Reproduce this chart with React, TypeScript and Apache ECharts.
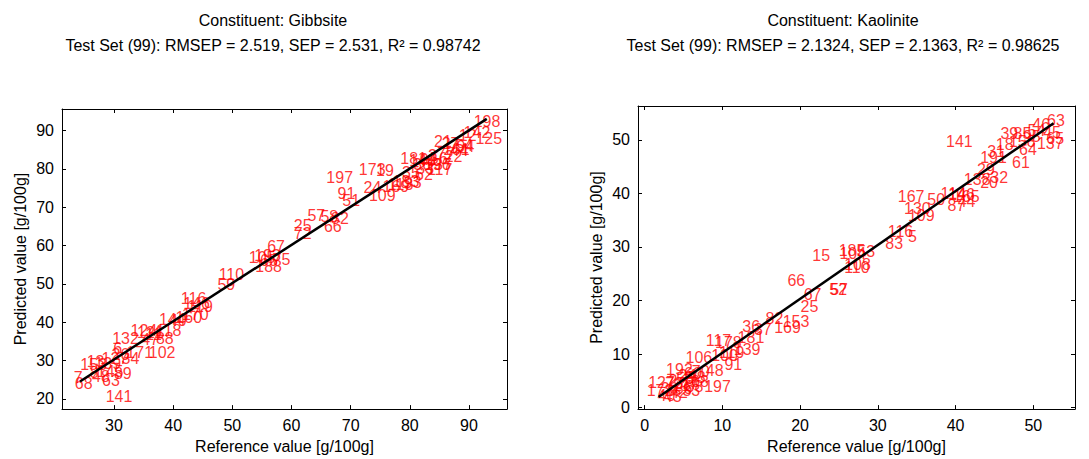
import React, { useEffect, useRef } from 'react';
import * as echarts from 'echarts';

// ---------- Gibbsite (left panel) ----------
const gibbsiteIds = [
  198, 142, 125, 12, 21, 27, 54, 94, 161, 44, 77, 181, 148, 36, 92, 196, 56, 37, 117, 35, 62, 93, 183, 2, 22, 33,
  197, 173, 19, 91, 51, 24, 109, 169, 113,
  57, 58, 82, 66, 25, 72,
  67, 105, 193, 65, 188, 75,
  110, 59,
  116, 146, 119, 170, 144, 40, 160, 118, 88,
  124, 121, 132, 11, 47,
  6, 171, 102, 34, 26,
  153, 13, 139, 127, 89, 7, 68, 63, 48, 145, 8, 141,
];
const gibbsiteRef = [
  90.7, 89.0, 91.0, 88.2, 84.0, 85.3, 87.6, 87.8, 85.5, 86.8, 84.5, 78.3, 79.8, 80.5, 81.6, 82.3, 83.3, 84.0, 82.8, 78.6, 80.8, 78.9, 77.0, 83.0, 85.8, 81.0,
  65.8, 71.3, 74.2, 67.7, 68.5, 72.1, 73.0, 75.3, 76.2,
  62.6, 64.8, 66.6, 65.4, 60.3, 60.3,
  55.8, 52.7, 53.6, 54.6, 53.8, 56.7,
  47.6, 47.4,
  41.2, 41.6, 42.3, 41.4, 37.5, 39.2, 40.3, 37.0, 37.0,
  32.7, 33.8, 29.6, 35.2, 34.5,
  29.8, 32.0, 35.8, 31.2, 29.5,
  24.2, 25.3, 26.6, 27.8, 29.9, 23.1, 23.3, 27.9, 26.2, 27.0, 25.8, 28.5,
];
const gibbsitePred = [
  92.2, 89.5, 88.0, 88.6, 87.2, 86.6, 86.0, 85.8, 85.0, 84.7, 84.0, 82.8, 82.2, 81.0, 82.5, 81.2, 82.6, 81.0, 79.8, 79.0, 78.6, 76.5, 76.8, 83.5, 83.2, 80.0,
  77.8, 79.7, 79.6, 73.5, 71.8, 75.0, 73.0, 75.4, 76.0,
  67.7, 67.5, 67.0, 64.9, 65.3, 63.2,
  59.8, 56.8, 57.3, 56.2, 54.6, 56.3,
  52.4, 49.8,
  46.2, 45.0, 44.0, 41.9, 40.8, 40.4, 41.2, 37.9, 35.8,
  37.9, 37.3, 35.7, 36.8, 35.5,
  33.1, 32.1, 32.1, 30.5, 31.5,
  28.9, 29.8, 29.2, 30.6, 26.5, 25.6, 24.1, 24.8, 25.8, 27.2, 26.9, 20.7,
];
const gibbsiteFitX = [24.25, 93.0];
const gibbsiteFitY = [24.55, 93.0];

// ---------- Kaolinite (right panel) ----------
const kaoliniteIds = [
  63, 46, 39, 85, 95, 54, 45, 65, 137, 64, 18, 31, 158, 61, 141, 191, 29, 138, 20, 32,
  167, 50, 114, 146, 165, 87, 44, 130, 109, 116, 5, 83,
  15, 185, 104, 53, 108, 110, 52, 57, 66, 67, 25, 82, 153, 169, 37, 36, 181, 117, 178, 139, 106, 100, 119, 91, 48,
  192, 127, 172, 40, 43, 197, 68, 58, 2, 21, 24, 30, 33, 42, 55, 60, 70, 73, 77, 86, 88,
];
const kaoliniteRef = [
  51.7, 49.8, 45.7, 47.4, 48.6, 49.2, 51.2, 51.6, 50.4, 48.1, 45.1, 44.0, 46.8, 47.2, 38.7, 43.1, 42.7, 41.0, 43.1, 44.4,
  32.5, 36.3, 38.0, 39.0, 39.6, 38.9, 40.2, 33.3, 33.8, 31.2, 33.8, 30.9,
  21.5, 24.9, 25.0, 27.3, 25.6, 25.6, 23.7, 23.8, 18.3, 20.4, 20.0, 15.5, 17.7, 16.6, 14.0, 12.5, 11.9, 7.8, 9.0, 11.4, 5.2, 8.5, 9.5, 10.2, 7.8,
  2.7, 0.4, 0.2, 1.6, 2.4, 7.6, 5.9, 5.5, 3.0, 3.6, 4.3, 2.0, 4.8, 3.2, 4.0, 5.0, 6.0, 2.6, 4.6, 3.8, 5.2,
];
const kaolinitePred = [
  53.6, 52.8, 51.1, 51.1, 50.6, 51.7, 51.4, 50.2, 49.3, 48.1, 49.1, 47.9, 49.6, 45.8, 49.6, 46.7, 44.5, 42.5, 42.0, 42.9,
  39.4, 38.9, 40.0, 39.8, 39.5, 37.8, 38.4, 37.2, 35.8, 32.8, 32.0, 30.7,
  28.4, 29.3, 28.7, 29.2, 26.8, 26.2, 22.0, 22.1, 23.7, 21.1, 18.8, 16.6, 16.0, 14.9, 14.6, 15.1, 13.1, 12.6, 12.2, 10.9, 9.3, 9.8, 10.3, 8.0, 7.0,
  7.2, 4.7, 3.3, 2.2, 2.0, 3.9, 4.9, 5.6, 5.0, 4.2, 6.0, 3.6, 3.2, 2.8, 5.4, 6.4, 6.8, 4.6, 4.6, 3.5, 4.0,
];
const kaoliniteFitX = [1.8, 52.6];
const kaoliniteFitY = [2.0, 53.1];

const FONT = '"Liberation Sans", Arial, Helvetica, sans-serif';

function xAxesFor(gridIndex: number, min: number, max: number) {
  return [
    {
      type: 'value', gridIndex, min, max, minInterval: 10, maxInterval: 10, position: 'bottom',
      name: 'Reference value [g/100g]', nameLocation: 'middle', nameGap: 27,
      nameTextStyle: { fontSize: 16, color: '#000', fontFamily: FONT },
      axisLine: { show: true, onZero: false, lineStyle: { color: '#000', width: 1 } },
      axisTick: { show: true, inside: true, length: 4, lineStyle: { color: '#000' } },
      axisLabel: { show: true, fontSize: 16, color: '#000', margin: 8, showMinLabel: false, showMaxLabel: false, fontFamily: FONT },
      splitLine: { show: false },
    },
    {
      type: 'value', gridIndex, min, max, minInterval: 10, maxInterval: 10, position: 'top',
      axisLine: { show: true, onZero: false, lineStyle: { color: '#000', width: 1 } },
      axisTick: { show: true, inside: true, length: 4, lineStyle: { color: '#000' } },
      axisLabel: { show: false },
      splitLine: { show: false },
    },
  ];
}

function yAxesFor(gridIndex: number, min: number, max: number) {
  return [
    {
      type: 'value', gridIndex, min, max, minInterval: 10, maxInterval: 10, position: 'left',
      name: 'Predicted value [g/100g]', nameLocation: 'middle', nameGap: 34, nameRotate: 90,
      nameTextStyle: { fontSize: 16, color: '#000', fontFamily: FONT },
      axisLine: { show: true, onZero: false, lineStyle: { color: '#000', width: 1 } },
      axisTick: { show: true, inside: true, length: 4, lineStyle: { color: '#000' } },
      axisLabel: { show: true, fontSize: 16, color: '#000', margin: 8, showMinLabel: false, showMaxLabel: false, fontFamily: FONT },
      splitLine: { show: false },
    },
    {
      type: 'value', gridIndex, min, max, minInterval: 10, maxInterval: 10, position: 'right',
      axisLine: { show: true, onZero: false, lineStyle: { color: '#000', width: 1 } },
      axisTick: { show: true, inside: true, length: 4, lineStyle: { color: '#000' } },
      axisLabel: { show: false },
      splitLine: { show: false },
    },
  ];
}

function labelSeries(axisIdx: number, ids: number[], ref: number[], pred: number[]) {
  return {
    type: 'scatter', xAxisIndex: axisIdx, yAxisIndex: axisIdx, silent: true, z: 2,
    symbol: 'circle', symbolSize: 1,
    itemStyle: { color: 'rgba(0,0,0,0)' },
    data: ids.map((id, i) => ({ name: String(id), value: [ref[i], pred[i]] })),
    label: {
      show: true, position: 'right', distance: 0, formatter: '{b}',
      color: '#ff0000', fontSize: 16, fontFamily: FONT, align: 'left', verticalAlign: 'middle',
    },
  };
}

function fitSeries(axisIdx: number, fx: number[], fy: number[]) {
  return {
    type: 'line', xAxisIndex: axisIdx, yAxisIndex: axisIdx, silent: true, z: 5,
    symbol: 'none', data: fx.map((x, i) => [x, fy[i]]),
    lineStyle: { color: '#000', width: 2.5 },
  };
}

export default function App() {
  const ref = useRef<HTMLDivElement>(null);
  useEffect(() => {
    if (!ref.current) return;
    const chart = echarts.init(ref.current, null, { renderer: 'svg' });
    const titleStyle = (text: string) => ({ text, align: 'center', verticalAlign: 'middle', fontSize: 16, fontFamily: FONT, fill: '#000' });
    chart.setOption({
      animation: false,
      backgroundColor: '#fff',
      textStyle: { fontFamily: FONT },
      graphic: [
        { type: 'text', x: 273, y: 20, style: titleStyle('Constituent: Gibbsite') },
        { type: 'text', x: 273, y: 45, style: titleStyle('Test Set (99): RMSEP = 2.519, SEP = 2.531, R\u00B2 = 0.98742') },
        { type: 'text', x: 843, y: 20, style: titleStyle('Constituent: Kaolinite') },
        { type: 'text', x: 843, y: 45, style: titleStyle('Test Set (99): RMSEP = 2.1324, SEP = 2.1363, R\u00B2 = 0.98625') },
      ],
      grid: [
        { left: 62, top: 109, width: 445, height: 304 },
        { left: 638, top: 106, width: 437, height: 305 },
      ],
      xAxis: [...xAxesFor(0, 21.21, 96.42), ...xAxesFor(1, -0.85, 55.36)],
      yAxis: [...yAxesFor(0, 17.35, 95.58), ...yAxesFor(1, -0.26, 56.31)],
      series: [
        labelSeries(0, gibbsiteIds, gibbsiteRef, gibbsitePred),
        fitSeries(0, gibbsiteFitX, gibbsiteFitY),
        labelSeries(2, kaoliniteIds, kaoliniteRef, kaolinitePred),
        fitSeries(2, kaoliniteFitX, kaoliniteFitY),
      ],
    });
    return () => chart.dispose();
  }, []);
  return <div ref={ref} style={{ position: 'absolute', left: 0, top: 0, width: 1089, height: 459, background: '#fff' }} />;
}
